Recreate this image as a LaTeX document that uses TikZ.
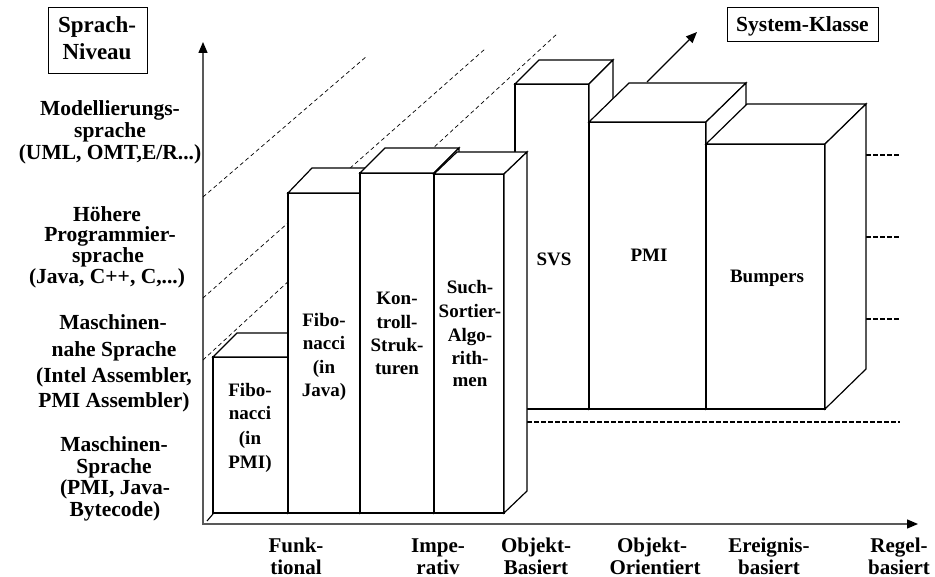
\documentclass[tikz,border=0pt]{standalone}
\usepackage{fontspec}
\setmainfont{Liberation Serif}
\usetikzlibrary{arrows.meta}
\newcommand\prismbox[6]{% x1, x2, ytop, ybottom, depth dx, depth dy
  \path[face] (#1,#3) rectangle (#2,#4);
  \path[face] (#1,#3) -- ({#1+#5},{#3-#6}) -- ({#2+#5},{#3-#6}) -- (#2,#3) -- cycle;
  \path[face] (#2,#3) -- ({#2+#5},{#3-#6}) -- ({#2+#5},{#4-#6}) -- (#2,#4) -- cycle;
}
\begin{document}
\begin{tikzpicture}[x=1pt,y=-1pt,
  face/.style={draw=black,fill=white,line width=1.2pt,line join=miter},
  axisline/.style={draw=black!65,line width=1.4pt,-{Triangle[length=11pt,width=9pt,black]}},
  guide/.style={line width=0.7pt,dash pattern=on 4pt off 3pt},
  levelline/.style={line width=1.3pt,dash pattern=on 5pt off 2pt},
  frame/.style={draw=black,line width=0.9pt},
  lbl/.style={font=\bfseries\fontsize{21.5}{22}\selectfont,anchor=base,inner sep=0pt},
  hdr/.style={font=\bfseries\fontsize{23}{24}\selectfont,anchor=base,inner sep=0pt},
  barlbl/.style={font=\bfseries\fontsize{19}{20}\selectfont,anchor=base,inner sep=0pt},
  axlbl/.style={font=\bfseries\fontsize{21}{22}\selectfont,anchor=base,inner sep=0pt}]
\useasboundingbox (0,0) rectangle (935,577);

% axes
\coordinate (origin) at (203,525);
\coordinate (ytip) at (203,42);
\coordinate (xorigin) at (203,524);
\coordinate (xtip) at (918,524);
\draw[axisline] (origin) -- (ytip);
\draw[axisline] (xorigin) -- (xtip);

% dashed level guides
\draw[guide] (203,197) -- (367,56);
\draw[guide] (203,298) -- (485,49);
\draw[guide] (203,360) -- (558,33);
\draw[levelline] (866,155) -- (900,155);
\draw[levelline] (866,237) -- (900,237);
\draw[levelline] (866,319) -- (900,319);
\draw[levelline] (520,422) -- (900,422);

% back group of bars
\prismbox{515}{589}{84}{409}{24}{24}
\prismbox{589}{706}{122}{409}{40}{39}
\prismbox{706}{825}{144}{409}{41}{40}

% system class arrow
\coordinate (sa) at (647,82);
\coordinate (sb) at (697,32);
\draw[line width=1.3pt,-{Triangle[length=11pt,width=9pt]}] (sa) -- (sb);

% front group of bars
\prismbox{213}{288}{357}{513}{24}{24}
\prismbox{288}{360}{193}{513}{24}{25}
\prismbox{360}{434}{173}{513}{25}{25}
\prismbox{434}{504}{174}{513}{23}{22}
\draw[line width=1.1pt] (207,521) -- (213,514);

% header boxes
\draw[frame] (48,7) rectangle (147,73);
\node[hdr] (sn1) at (97,33) {Sprach-};
\node[hdr] (sn2) at (97,60) {Niveau};
\draw[frame] (727,7) rectangle (878,41);
\node[lbl] (sk) at (802.5,32) {System-Klasse};

% level labels
\node[lbl] (ml1) at (110,116) {Modellierungs-};
\node[lbl] (ml2) at (110,138) {sprache};
\node[lbl] (ml3) at (110,160) {(UML, OMT,E/R...)};

\node[lbl] (hp1) at (107,222) {Höhere};
\node[lbl] (hp2) at (110,242) {Programmier-};
\node[lbl] (hp3) at (108,263) {sprache};
\node[lbl] (hp4) at (107,284) {(Java, C++, C,...)};

\node[lbl] (mn1) at (113,330) {Maschinen-};
\node[lbl] (mn2) at (114,357) {nahe Sprache};
\node[lbl] (mn3) at (114,383) {(Intel Assembler,};
\node[lbl] (mn4) at (114,408) {PMI Assembler)};

\node[lbl] (ms1) at (114,451) {Maschinen-};
\node[lbl] (ms2) at (114,473) {Sprache};
\node[lbl] (ms3) at (115,494) {(PMI, Java-};
\node[lbl] (ms4) at (115,516) {Bytecode)};

% bar labels
\node[barlbl] (f1a) at (250,396) {Fibo-};
\node[barlbl] (f1b) at (250,420) {nacci};
\node[barlbl] (f1c) at (250,444) {(in};
\node[barlbl] (f1d) at (250,468) {PMI)};

\node[barlbl] (f2a) at (324,327) {Fibo-};
\node[barlbl] (f2b) at (324,350) {nacci};
\node[barlbl] (f2c) at (324,374) {(in};
\node[barlbl] (f2d) at (324,397) {Java)};

\node[barlbl] (k1) at (397,305) {Kon-};
\node[barlbl] (k2) at (397,329) {troll-};
\node[barlbl] (k3) at (397,352) {Struk-};
\node[barlbl] (k4) at (397,375) {turen};

\node[barlbl] (s1) at (470,294) {Such-};
\node[barlbl] (s2) at (470,318) {Sortier-};
\node[barlbl] (s3) at (470,342) {Algo-};
\node[barlbl] (s4) at (470,365) {rith-};
\node[barlbl] (s5) at (470,387) {men};

\node[barlbl] (svs) at (554,266) {SVS};
\node[barlbl] (pmi) at (649,262) {PMI};
\node[barlbl] (bmp) at (767,283) {Bumpers};

% system class labels
\node[axlbl] (c1a) at (296,552) {Funk-};
\node[axlbl] (c1b) at (296,574) {tional};
\node[axlbl] (c2a) at (438,552) {Impe-};
\node[axlbl] (c2b) at (438,574) {rativ};
\node[axlbl] (c3a) at (536,552) {Objekt-};
\node[axlbl] (c3b) at (536,574) {Basiert};
\node[axlbl] (c4a) at (652,552) {Objekt-};
\node[axlbl] (c4b) at (655,574) {Orientiert};
\node[axlbl] (c5a) at (769,552) {Ereignis-};
\node[axlbl] (c5b) at (769,574) {basiert};
\node[axlbl] (c6a) at (899,552) {Regel-};
\node[axlbl] (c6b) at (899,574) {basiert};
\end{tikzpicture}
\end{document}
